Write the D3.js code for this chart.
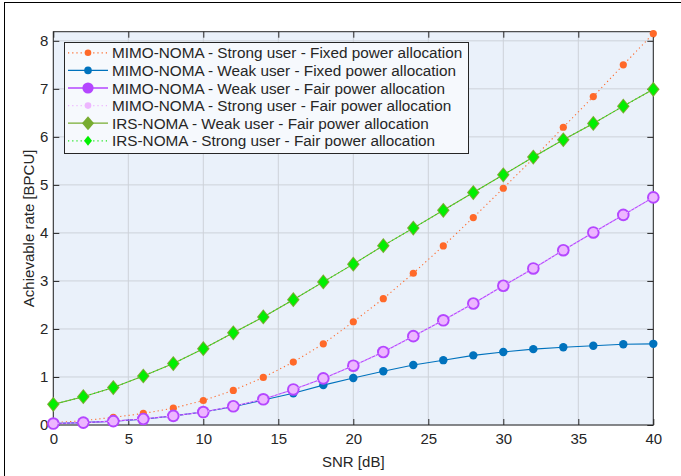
<!DOCTYPE html>
<html><head><meta charset="utf-8">
<script src="https://cdn.jsdelivr.net/npm/d3@7/dist/d3.min.js"></script>
<style>
html,body{margin:0;padding:0;background:#fff;}
svg{display:block;font-family:"Liberation Sans",Arial,Helvetica,sans-serif;}
</style></head>
<body>
<svg id="chart" width="681" height="476"></svg>
<script>
const snr = [0,2,4,6,8,10,12,14,16,18,20,22,24,26,28,30,32,34,36,38,40];
const mimoStrongFixed = [0.05,0.09,0.16,0.24,0.35,0.51,0.72,0.99,1.31,1.69,2.15,2.63,3.16,3.73,4.32,4.93,5.55,6.20,6.84,7.50,8.15];
const mimoWeakFixed = [0.03,0.05,0.08,0.12,0.19,0.27,0.38,0.52,0.66,0.83,0.98,1.12,1.25,1.35,1.45,1.52,1.58,1.62,1.65,1.68,1.69];
const mimoWeakFair = [0.03,0.05,0.08,0.125,0.19,0.27,0.39,0.535,0.74,0.97,1.235,1.52,1.85,2.18,2.53,2.90,3.26,3.64,4.01,4.375,4.74];
const mimoStrongFair = [0.03,0.05,0.08,0.125,0.19,0.27,0.39,0.535,0.74,0.97,1.235,1.52,1.85,2.18,2.53,2.90,3.26,3.64,4.01,4.375,4.74];
const irsWeakFair = [0.43,0.59,0.78,1.02,1.28,1.59,1.92,2.25,2.61,2.98,3.35,3.735,4.10,4.47,4.84,5.21,5.58,5.94,6.28,6.64,6.99];
const irsStrongFair = [0.43,0.59,0.78,1.02,1.28,1.59,1.92,2.25,2.61,2.98,3.35,3.735,4.10,4.47,4.84,5.21,5.58,5.94,6.28,6.64,6.99];
const xTicks = [0,5,10,15,20,25,30,35,40];
const yTicks = [0,1,2,3,4,5,6,7,8];
const seriesNames = [
  "MIMO-NOMA - Strong user - Fixed power allocation",
  "MIMO-NOMA - Weak user - Fixed power allocation",
  "MIMO-NOMA - Weak user - Fair power allocation",
  "MIMO-NOMA - Strong user - Fair power allocation",
  "IRS-NOMA - Weak user - Fair power allocation",
  "IRS-NOMA - Strong user - Fair power allocation"
];
const xLabel = "SNR [dB]";
const yLabel = "Achievable rate [BPCU]";

const svg = d3.select("#chart");
const W = 681, H = 476;
const L = 53.3, R = 653.3, T = 31.7, B = 425;
const x = d3.scaleLinear().domain([0,40]).range([L,R]);
const y = d3.scaleLinear().domain([0,8.19]).range([B,T]);
const ink = "#262626";

svg.append("rect").attr("width",W).attr("height",H).attr("fill","#fff");
// figure frame (partial)
svg.append("line").attr("x1",4.5).attr("x2",4.5).attr("y1",2.5).attr("y2",H).attr("stroke","#000").attr("stroke-width",1);
svg.append("line").attr("x1",4).attr("x2",W).attr("y1",2.5).attr("y2",2.5).attr("stroke","#000").attr("stroke-width",1);

// plot background
svg.append("rect").attr("x",L).attr("y",T).attr("width",R-L).attr("height",B-T).attr("fill","#EAF1FA");

// grid
const g = svg.append("g");
g.selectAll(".gx").data(xTicks).enter().append("line")
  .attr("x1",d=>x(d)).attr("x2",d=>x(d)).attr("y1",T).attr("y2",B)
  .attr("stroke","#CDD2D9").attr("stroke-width",1);
g.selectAll(".gy").data(yTicks).enter().append("line")
  .attr("y1",d=>y(d)).attr("y2",d=>y(d)).attr("x1",L).attr("x2",R)
  .attr("stroke","#CDD2D9").attr("stroke-width",1);

// axes via d3 axis
const fs = 15;
const axB = svg.append("g").attr("transform",`translate(0,${B})`)
  .call(d3.axisBottom(x).tickValues(xTicks).tickSize(-6).tickPadding(8).tickFormat(d3.format("d")));
const axL = svg.append("g").attr("transform",`translate(${L},0)`)
  .call(d3.axisLeft(y).tickValues(yTicks).tickSize(-6).tickPadding(5).tickFormat(d3.format("d")));
const axT = svg.append("g").attr("transform",`translate(0,${T})`)
  .call(d3.axisTop(x).tickValues(xTicks).tickSize(-6).tickFormat(""));
const axR = svg.append("g").attr("transform",`translate(${R},0)`)
  .call(d3.axisRight(y).tickValues(yTicks).tickSize(-6).tickFormat(""));
[axB,axL,axT,axR].forEach(a=>{
  a.select(".domain").remove();
  a.selectAll("line").attr("stroke",ink).attr("stroke-width",1);
  a.selectAll("text").attr("fill",ink).style("font-size",fs+"px").style("font-family","'Liberation Sans',Arial,sans-serif");
});
// box
svg.append("rect").attr("x",L).attr("y",T).attr("width",R-L).attr("height",B-T)
  .attr("fill","none").attr("stroke",ink).attr("stroke-width",1);

// labels
svg.append("text").attr("x",(L+R)/2).attr("y",467).attr("text-anchor","middle")
  .attr("fill",ink).style("font-size","15px").text(xLabel);
svg.append("text").attr("transform",`translate(33.5,${(T+B)/2}) rotate(-90)`).attr("text-anchor","middle")
  .attr("fill",ink).style("font-size","15px").text(yLabel);

// series definitions
const series = [
  {v:mimoStrongFixed, color:"#FF6929", dash:"1.2,3", marker:"circle", r:3.6, fill:"#FF6929", lr:3.3},
  {v:mimoWeakFixed, color:"#0072BD", dash:null, marker:"circle", r:4.2, fill:"#0072BD", lr:3.8},
  {v:mimoWeakFair, color:"#B446FF", dash:null, marker:"circle", r:6.3, fill:"#B446FF", lr:5.6},
  {v:mimoStrongFair, color:"#EDB6FF", dash:"1.2,3", marker:"circle", r:4.4, fill:"#EDB6FF", lr:3.3},
  {v:irsWeakFair, color:"#77AC30", dash:null, marker:"diamond", w:6.3, h:7.6, fill:"#77AC30", lw:6, lh:7},
  {v:irsStrongFair, color:"#19E619", dash:"1.2,3", marker:"diamond", w:4.8, h:6.1, fill:"#00F000", lw:4, lh:5}
];
const line = d3.line().x((d,i)=>x(snr[i])).y(d=>y(d));
const plot = svg.append("g");
function diamondPath(cx,cy,w,h){return `M${cx},${cy-h}L${cx+w},${cy}L${cx},${cy+h}L${cx-w},${cy}Z`;}
series.forEach(s=>{
  plot.append("path").datum(s.v).attr("d",line).attr("fill","none")
    .attr("stroke",s.color).attr("stroke-width",1.1)
    .attr("stroke-dasharray",s.dash);
  const pts = s.v.map((d,i)=>[x(snr[i]),y(d)]);
  if(s.marker==="circle"){
    plot.selectAll(null).data(pts).enter().append("circle")
      .attr("cx",d=>d[0]).attr("cy",d=>d[1]).attr("r",s.r).attr("fill",s.fill);
  } else {
    plot.selectAll(null).data(pts).enter().append("path")
      .attr("d",d=>diamondPath(d[0],d[1],s.w,s.h)).attr("fill",s.fill);
  }
});

// legend
const lg = svg.append("g");
const lx = 64.5, ly = 42.5, lw = 404, lh = 111;
lg.append("rect").attr("x",lx).attr("y",ly).attr("width",lw).attr("height",lh)
  .attr("fill","#F6F9FD").attr("stroke",ink).attr("stroke-width",1);
series.forEach((s,i)=>{
  const cy = 52.8 + i*17.6;
  lg.append("line").attr("x1",68).attr("x2",108).attr("y1",cy).attr("y2",cy)
    .attr("stroke",s.color).attr("stroke-width",1.3).attr("stroke-dasharray",s.dash);
  if(s.marker==="circle"){
    lg.append("circle").attr("cx",88).attr("cy",cy).attr("r",s.lr).attr("fill",s.fill);
  } else {
    lg.append("path").attr("d",diamondPath(88,cy,s.lw,s.lh)).attr("fill",s.fill);
  }
  lg.append("text").attr("x",112).attr("y",cy).attr("dy","0.36em").attr("fill",ink)
    .style("font-size","15.3px").text(seriesNames[i]);
});
</script>
</body></html>
